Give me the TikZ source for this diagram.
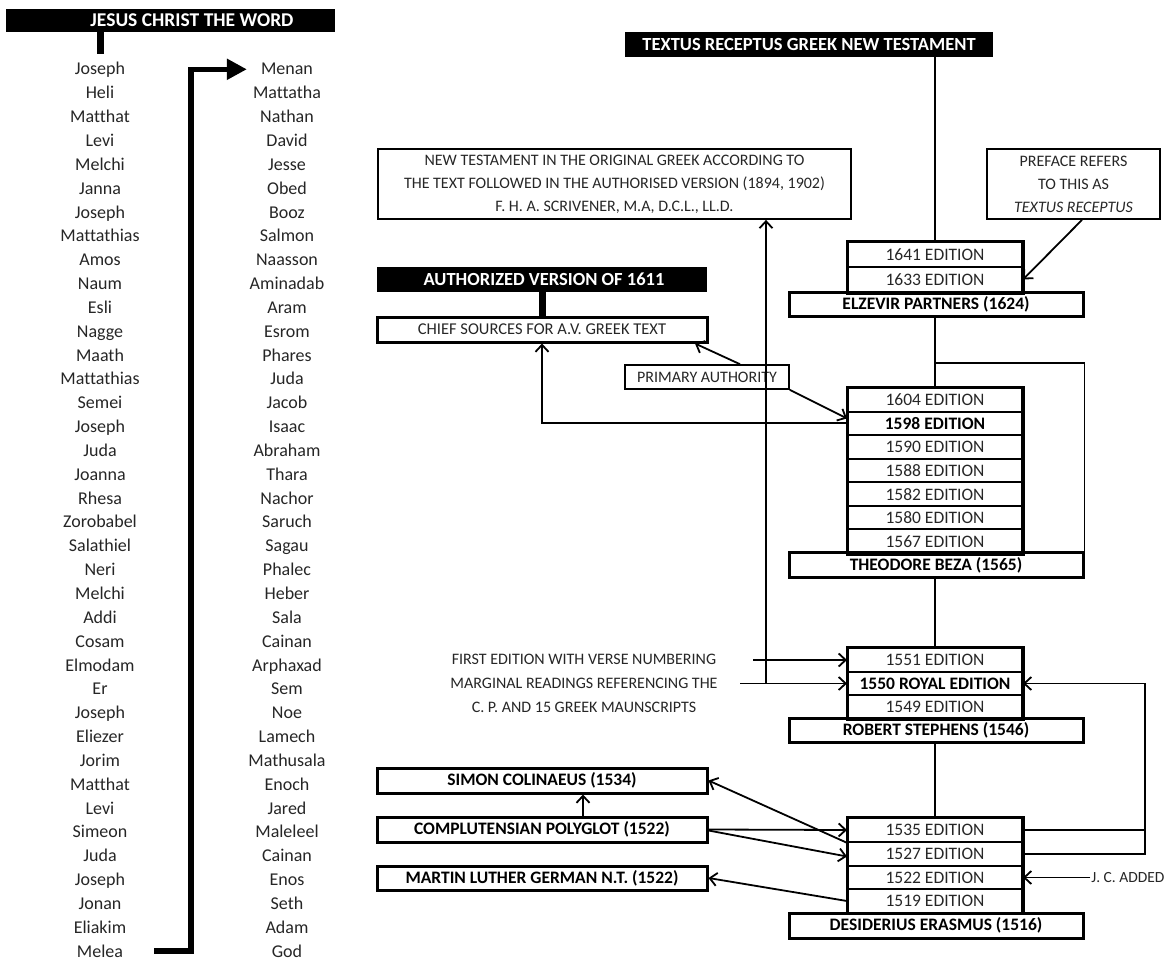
\documentclass[tikz,border=0pt]{standalone}
\usepackage{fontspec}
\setmainfont{Carlito}[Ligatures=NoCommon]
\usetikzlibrary{arrows.meta}

\begin{document}
\begin{tikzpicture}[x=1pt,y=-1pt,
  inktext/.style={text=black!85},
  namecell/.style={inktext, anchor=base, inner sep=0pt, font=\fontsize{18}{20}\selectfont},
  headbar/.style={fill=black, inner sep=0pt},
  headtext/.style={text=white, inner sep=0pt, font=\bfseries\fontsize{18.5}{20}\selectfont},
  edbox/.style={draw, line width=2pt, inktext, minimum width=174pt, minimum height=23.6pt,
    inner sep=0pt, font=\fontsize{17.5}{20}\selectfont},
  edbold/.style={edbox, text=black, font=\bfseries\fontsize{17.5}{20}\selectfont},
  stackframe/.style={draw, line width=3pt},
  basebox/.style={draw, line width=3pt, minimum width=294pt, minimum height=24.5pt,
    inner sep=0pt, font=\bfseries\fontsize{17.5}{20}\selectfont},
  srcbox/.style={draw, line width=3pt, minimum width=330pt, minimum height=25pt,
    inner sep=0pt, font=\bfseries\fontsize{17.5}{20}\selectfont},
  notebox/.style={draw, line width=1.8pt, inktext, align=center, inner sep=0pt,
    font=\fontsize{16}{23}\selectfont},
  notetext/.style={inktext, align=center, inner sep=2pt, font=\fontsize{16}{24}\selectfont},
  conn/.style={line width=1.8pt},
  arr/.style={conn, -{Straight Barb[length=7pt,width=13pt,line width=1.8pt]}},
  bigarr/.style={line width=5.5pt, -{Triangle[length=20pt,width=20pt]}},
  tab/.style={line width=7pt}
]
\useasboundingbox (0,0) rectangle (1171,963);

% ---------------- genealogy column ----------------
\node[headbar, minimum width=329pt, minimum height=23pt] (jesus) at (170.5,20.5) {};
\node[headtext, font=\bfseries\fontsize{19.5}{20}\selectfont] (jesustxt) at (192,20.5) {JESUS CHRIST THE WORD};
\draw[tab] ([xshift=-70pt]jesus.south) -- ++(0,22);

\foreach \nm [count=\i from 0] in {Joseph,Heli,Matthat,Levi,Melchi,Janna,Joseph,Mattathias,
  Amos,Naum,Esli,Nagge,Maath,Mattathias,Semei,Joseph,Juda,Joanna,Rhesa,Zorobabel,
  Salathiel,Neri,Melchi,Addi,Cosam,Elmodam,Er,Joseph,Eliezer,Jorim,Matthat,Levi,
  Simeon,Juda,Joseph,Jonan,Eliakim,Melea}
  \node[namecell] (L\i) at (100,75+23.84*\i) {\nm};

\foreach \nm [count=\i from 0] in {Menan,Mattatha,Nathan,David,Jesse,Obed,Booz,Salmon,
  Naasson,Aminadab,Aram,Esrom,Phares,Juda,Jacob,Isaac,Abraham,Thara,Nachor,Saruch,
  Sagau,Phalec,Heber,Sala,Cainan,Arphaxad,Sem,Noe,Lamech,Mathusala,Enoch,Jared,
  Maleleel,Cainan,Enos,Seth,Adam,God}
  \node[namecell] (R\i) at (287,75+23.84*\i) {\nm};

\coordinate (gfrom) at ([xshift=31pt]L37.east);
\coordinate (gto) at ([xshift=-14pt]R0.west);
\draw[bigarr] (gfrom) -- ++(37,0) |- (gto);

% ---------------- Textus Receptus tree ----------------
\node[headbar, minimum width=368pt, minimum height=25pt] (textus) at (809,44.5) {};
\node[headtext] (textustxt) at (809,44.5) {TEXTUS RECEPTUS GREEK NEW TESTAMENT};

\node[notebox, minimum width=473pt, minimum height=70pt] (scriv) at (614.5,184)
  {NEW TESTAMENT IN THE ORIGINAL GREEK ACCORDING TO\\
   THE TEXT FOLLOWED IN THE AUTHORISED VERSION (1894, 1902)\\
   F. H. A. SCRIVENER, M.A, D.C.L., LL.D.};
\node[notebox, minimum width=173pt, minimum height=70pt] (preface) at (1073.5,184)
  {PREFACE REFERS\\ TO THIS AS\\ \textit{TEXTUS RECEPTUS}};

% Elzevir
\node[edbox, minimum height=25pt] (e1641) at (935,254.5) {1641 EDITION};
\node[edbox, minimum height=25pt] (e1633) at (935,279.5) {1633 EDITION};
\draw[stackframe] (e1641.north west) rectangle (e1633.south east);
\node[basebox] (elz) at (936,304.5) {ELZEVIR PARTNERS (1624)};

% Authorized Version
\node[headbar, minimum width=330pt, minimum height=25pt] (auth) at (542,279.5) {};
\node[headtext] (authtxt) at (544,279.5) {AUTHORIZED VERSION OF 1611};
\node[draw, line width=3pt, inktext, minimum width=330pt, minimum height=25pt, inner sep=0pt,
  font=\fontsize{16.5}{20}\selectfont] (chief) at (542,329.5) {CHIEF SOURCES FOR A.V. GREEK TEXT};
\draw[tab] (auth.south) -- (chief.north);
\node[notebox, line width=1.6pt, minimum width=164pt, minimum height=24pt] (prim) at (707,377)
  {PRIMARY AUTHORITY};

% Beza
\foreach \ed/\yy in {1604/399.8,1590/446.9,1588/470.5,1582/494.1,1580/517.6,1567/541.2}
  \node[edbox] (e\ed) at (935,\yy) {\ed\ EDITION};
\node[edbold] (e1598) at (935,423.4) {1598 EDITION};
\draw[stackframe] (e1604.north west) rectangle (e1567.south east);
\node[basebox] (beza) at (936,565) {THEODORE BEZA (1565)};

% Stephens
\node[edbox] (e1551) at (935,660) {1551 EDITION};
\node[edbold] (royal) at (935,683.5) {1550 ROYAL EDITION};
\node[edbox] (e1549) at (935,706.8) {1549 EDITION};
\draw[stackframe] (e1551.north west) rectangle (e1549.south east);
\node[basebox] (steph) at (936,730.5) {ROBERT STEPHENS (1546)};
\node[notetext] (vnote) at (584,683.5)
  {FIRST EDITION WITH VERSE NUMBERING\\
   MARGINAL READINGS REFERENCING THE\\
   C. P. AND 15 GREEK MAUNSCRIPTS};

% Erasmus
\foreach \ed/\yy in {1535/830,1527/854,1522/877.5,1519/901}
  \node[edbox] (e\ed) at (935,\yy) {\ed\ EDITION};
\draw[stackframe] (e1535.north west) rectangle (e1519.south east);
\node[basebox, minimum height=25pt] (eras) at (936,925.5) {DESIDERIUS ERASMUS (1516)};
\node[notetext, inner sep=1pt, font=\fontsize{15.5}{18}\selectfont] (jc) at (1128,877.5) {J. C. ADDED};

% sources beside Erasmus
\node[srcbox] (simon) at (542,780.5) {SIMON COLINAEUS (1534)};
\node[srcbox] (compl) at (542,829.5) {COMPLUTENSIAN POLYGLOT (1522)};
\node[srcbox, minimum height=24pt] (luther) at (542,878) {MARTIN LUTHER GERMAN N.T. (1522)};

% ---------------- connectors ----------------
\draw[conn] (textus.south -| e1641.north) -- (e1641.north);
\draw[arr] ([xshift=8.5pt]preface.south) -- (e1633.east);
\draw[conn] (elz.south -| e1604.north) -- (e1604.north);
\coordinate (bzfork) at (935,363);
\draw[conn] (bzfork) -| (beza.north east);

\draw[arr] ([xshift=33pt]prim.north) -- ([xshift=153pt]chief.south);
\draw[arr] (prim.south east) -- ([yshift=5pt]e1598.west);
\draw[arr] ([yshift=0.5pt]e1598.west) -| (chief.south);

\draw[conn] (beza.south -| e1551.north) -- (e1551.north);
\coordinate (fe) at (753,660);
\coordinate (mr) at (740,683.5);
\draw[arr] (fe) -- (e1551.west);
\draw[arr] (mr) -- (royal.west);
\coordinate (sj) at ([xshift=151.5pt]scriv.south |- royal.west);
\draw[arr] (sj) -- (sj |- scriv.south);

\draw[conn] (steph.south -| e1535.north) -- (e1535.north);
\coordinate (rl) at (1145,0);
\draw[arr] (e1527.east) -- (e1527.east -| rl) -- (royal.east -| rl) -- (royal.east);
\draw[conn] (e1535.east) -- (e1535.east -| rl);

\draw[arr] ([xshift=41pt]compl.north) -- ([xshift=41pt]simon.south);
\draw[arr] (compl.east) -- (e1535.west);
\draw[arr] ([yshift=-1pt]compl.east) -- ([yshift=-2.5pt]e1527.west);
\draw[arr] (e1535.south west) -- (simon.east);
\draw[arr] (e1519.west) -- (luther.east);
\draw[arr] (jc.west) -- (e1522.east);
\end{tikzpicture}
\end{document}
